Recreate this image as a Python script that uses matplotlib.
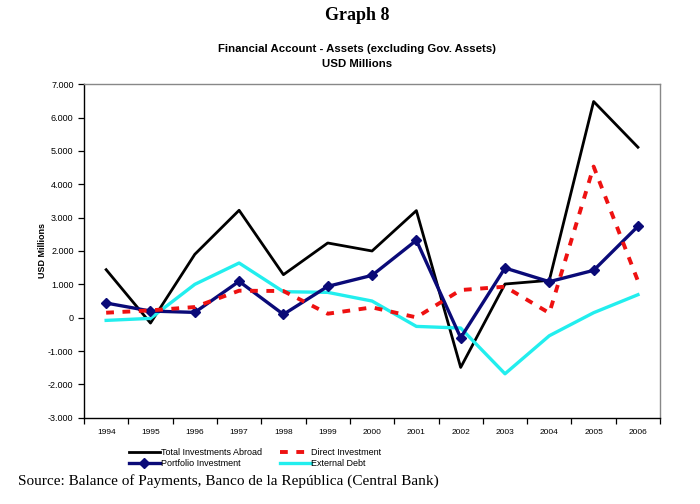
import matplotlib
matplotlib.use('Agg')
import matplotlib.pyplot as plt
import numpy as np
from matplotlib.ticker import FuncFormatter, FixedLocator

plt.rcParams.update({
    'font.family': 'Liberation Sans',
    'font.size': 7,
})

YEARS = ['1994', '1995', '1996', '1997', '1998', '1999', '2000',
         '2001', '2002', '2003', '2004', '2005', '2006']
TOTAL = [1440, -160, 1900, 3220, 1290, 2240, 2000, 3210, -1490, 1010, 1120, 6480, 5110]
DIRECT = [150, 220, 320, 810, 800, 120, 310, 10, 830, 930, 140, 4530, 1100]
PORTFOLIO = [440, 200, 160, 1090, 100, 940, 1270, 2320, -600, 1490, 1080, 1420, 2740]
EXTERNAL = [-80, -20, 1000, 1640, 780, 760, 500, -260, -310, -1680, -540, 150, 690]


def dot_thousands(v, pos):
    return f'{v:,.0f}'.replace(',', '.')


fig = plt.figure(figsize=(7.0, 5.04), dpi=100)
ax = fig.add_axes([0.12, 0.171, 0.823, 0.662])

x = np.arange(len(YEARS))
ax.plot(x, TOTAL, color='black', lw=2.0, label='Total Investments Abroad')
ax.plot(x, EXTERNAL, color='#22eeee', lw=2.4, label='External Debt')
ax.plot(x, PORTFOLIO, color='#0a0a78', lw=2.4, marker='D', ms=5,
        label='Portfolio Investment')
ax.plot(x, DIRECT, color='#ee1111', lw=2.8, ls=(0, (2, 2.2)), label='Direct Investment')

ax.set_xlim(-0.5, len(YEARS) - 0.5)
ax.set_ylim(-3000, 7000)
ax.set_yticks(np.arange(-3000, 7001, 1000))
ax.yaxis.set_major_formatter(FuncFormatter(dot_thousands))
ax.set_xticks(x)
ax.set_xticklabels(YEARS, fontsize=6)
ax.xaxis.set_minor_locator(FixedLocator(np.arange(-0.5, len(YEARS), 1.0)))
ax.tick_params(axis='x', which='major', length=0, pad=8)
ax.tick_params(axis='x', which='minor', length=4, direction='out', width=0.9)
ax.tick_params(axis='y', length=4, direction='out', width=0.9, labelsize=6.5)
ax.set_ylabel('USD Millions', fontsize=6.5, fontweight='bold', labelpad=1)

for side in ['left', 'bottom']:
    ax.spines[side].set_color('black')
    ax.spines[side].set_linewidth(1.0)
for side in ['top', 'right']:
    ax.spines[side].set_color('#888888')
    ax.spines[side].set_linewidth(1.0)

fig.text(0.51, 0.97, 'Graph 8', ha='center', va='center', fontsize=13,
         fontweight='bold', family='Liberation Serif')
fig.text(0.51, 0.902, 'Financial Account - Assets (excluding Gov. Assets)',
         ha='center', va='center', fontsize=8.2, fontweight='bold')
fig.text(0.51, 0.873, 'USD Millions', ha='center', va='center',
         fontsize=8.2, fontweight='bold')

handles, labels = ax.get_legend_handles_labels()
lookup = dict(zip(labels, handles))
order = ['Total Investments Abroad', 'Portfolio Investment',
         'Direct Investment', 'External Debt']
fig.legend([lookup[k] for k in order], order,
           loc='center left', bbox_to_anchor=(0.178, 0.091), ncol=2,
           frameon=False, fontsize=6.5, handlelength=3.4, handletextpad=0.1,
           columnspacing=2.0, labelspacing=0.15, borderpad=0)

fig.text(0.026, 0.045, 'Source: Balance of Payments, Banco de la República (Central Bank)',
         ha='left', va='center', fontsize=11, family='Liberation Serif')

fig.savefig('out.png', dpi=100, facecolor='white')
